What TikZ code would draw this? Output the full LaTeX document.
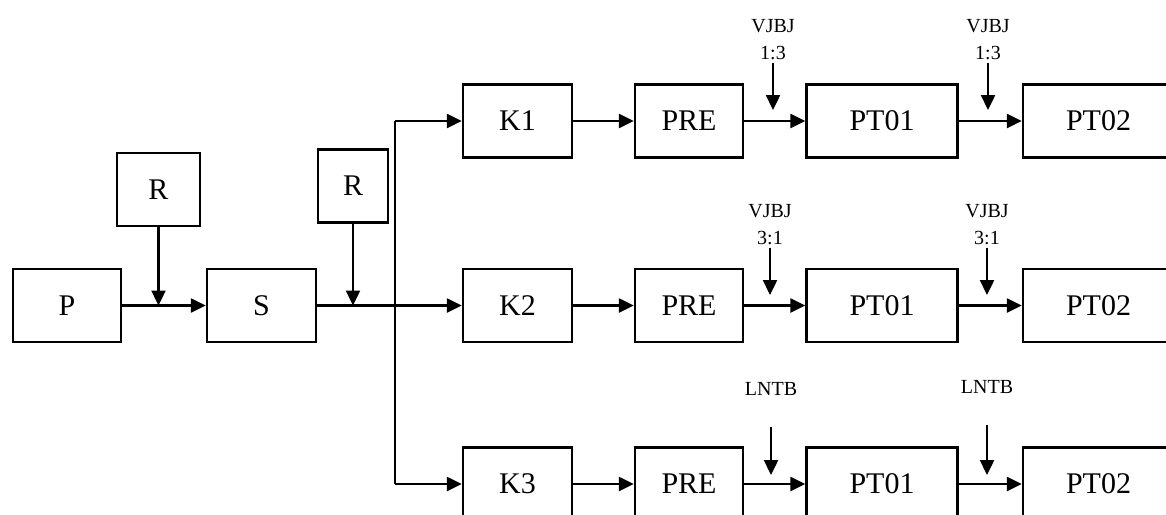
\documentclass[tikz,border=0pt]{standalone}
\usepackage{fontspec}
\setmainfont{Liberation Serif}
\usetikzlibrary{arrows.meta, positioning}

\begin{document}
\begin{tikzpicture}[x=0.5pt, y=-0.5pt,
		box/.style={draw, line width=1.2pt, minimum height=36.5pt, inner sep=0pt, font=\fontsize{15}{18}\selectfont},
		flow/.style={-{Triangle[length=7.5pt, width=7pt]}, line width=1.2pt},
		dose/.style={font=\fontsize{10}{13.5}\selectfont, align=center, inner sep=1pt}]
	\clip (0,0) rectangle (1166,514);

	% Feed, reagent dosing and mixing
	\node[box, minimum width=54pt] (P) at (67,305.5) {P};
	\node[box, minimum width=41.5pt] (R1) at (158.5,189.5) {R};
	\node[box, minimum width=54.5pt] (S) at (261.5,305.5) {S};
	\node[box, minimum width=35pt] (R2) at (353,186) {R};
	\coordinate (m1) at (R1 |- P);
	\coordinate (m2) at (R2 |- S);
	\draw[flow] (P) -- (S);
	\draw[flow] (R1) -- (m1);
	\draw[flow] (R2) -- (m2);

	% Split into three lines
	\coordinate (bus) at (395,305.5);

	% Line 1
	\node[box, minimum width=54.5pt] (K1) at (517.5,121) {K1};
	\node[box, minimum width=54pt] (E1) at (689,121) {PRE};
	\node[box, minimum width=75.5pt] (A1) at (882,121) {PT01};
	\node[box, minimum width=75.5pt] (B1) at (1098.5,121) {PT02};
	\node[dose] (v11) at (773,40) {VJBJ\\1:3};
	\node[dose] (v12) at (988,40) {VJBJ\\1:3};
	\coordinate (t11) at (773,110);
	\coordinate (t12) at (988,110);

	% Line 2
	\node[box, minimum width=54.5pt] (K2) at (517.5,305.5) {K2};
	\node[box, minimum width=54pt] (E2) at (689,305.5) {PRE};
	\node[box, minimum width=75.5pt] (A2) at (882,305.5) {PT01};
	\node[box, minimum width=75.5pt] (B2) at (1098.5,305.5) {PT02};
	\node[dose] (v21) at (770,225) {VJBJ\\3:1};
	\node[dose] (v22) at (987,225) {VJBJ\\3:1};
	\coordinate (t21) at (770,295);
	\coordinate (t22) at (987,295);

	% Line 3
	\node[box, minimum width=54.5pt] (K3) at (517.5,484) {K3};
	\node[box, minimum width=54pt] (E3) at (689,484) {PRE};
	\node[box, minimum width=75.5pt] (A3) at (882,484) {PT01};
	\node[box, minimum width=75.5pt] (B3) at (1098.5,484) {PT02};
	\node[dose] (v31) at (771,389) {LNTB};
	\node[dose] (v32) at (987,387) {LNTB};
	\coordinate (t31) at (771,475);
	\coordinate (t32) at (987,475);

	% Connectors
	\draw[line width=1.2pt] (bus |- K1) -- (bus |- K3);
	\draw[flow] (bus |- K1) -- (K1);
	\draw[flow] (S) -- (K2);
	\draw[flow] (bus |- K3) -- (K3);
	\draw[flow] (K1) -- (E1);
	\draw[flow] (E1) -- (A1);
	\draw[flow] (A1) -- (B1);
	\draw[flow] (K2) -- (E2);
	\draw[flow] (E2) -- (A2);
	\draw[flow] (A2) -- (B2);
	\draw[flow] (K3) -- (E3);
	\draw[flow] (E3) -- (A3);
	\draw[flow] (A3) -- (B3);
	\draw[flow] (v11) -- (t11);
	\draw[flow] (v12) -- (t12);
	\draw[flow] (v21) -- (t21);
	\draw[flow] (v22) -- (t22);
	\draw[flow, shorten <=14.5pt] (v31) -- (t31);
	\draw[flow, shorten <=14.5pt] (v32) -- (t32);
\end{tikzpicture}
\end{document}
